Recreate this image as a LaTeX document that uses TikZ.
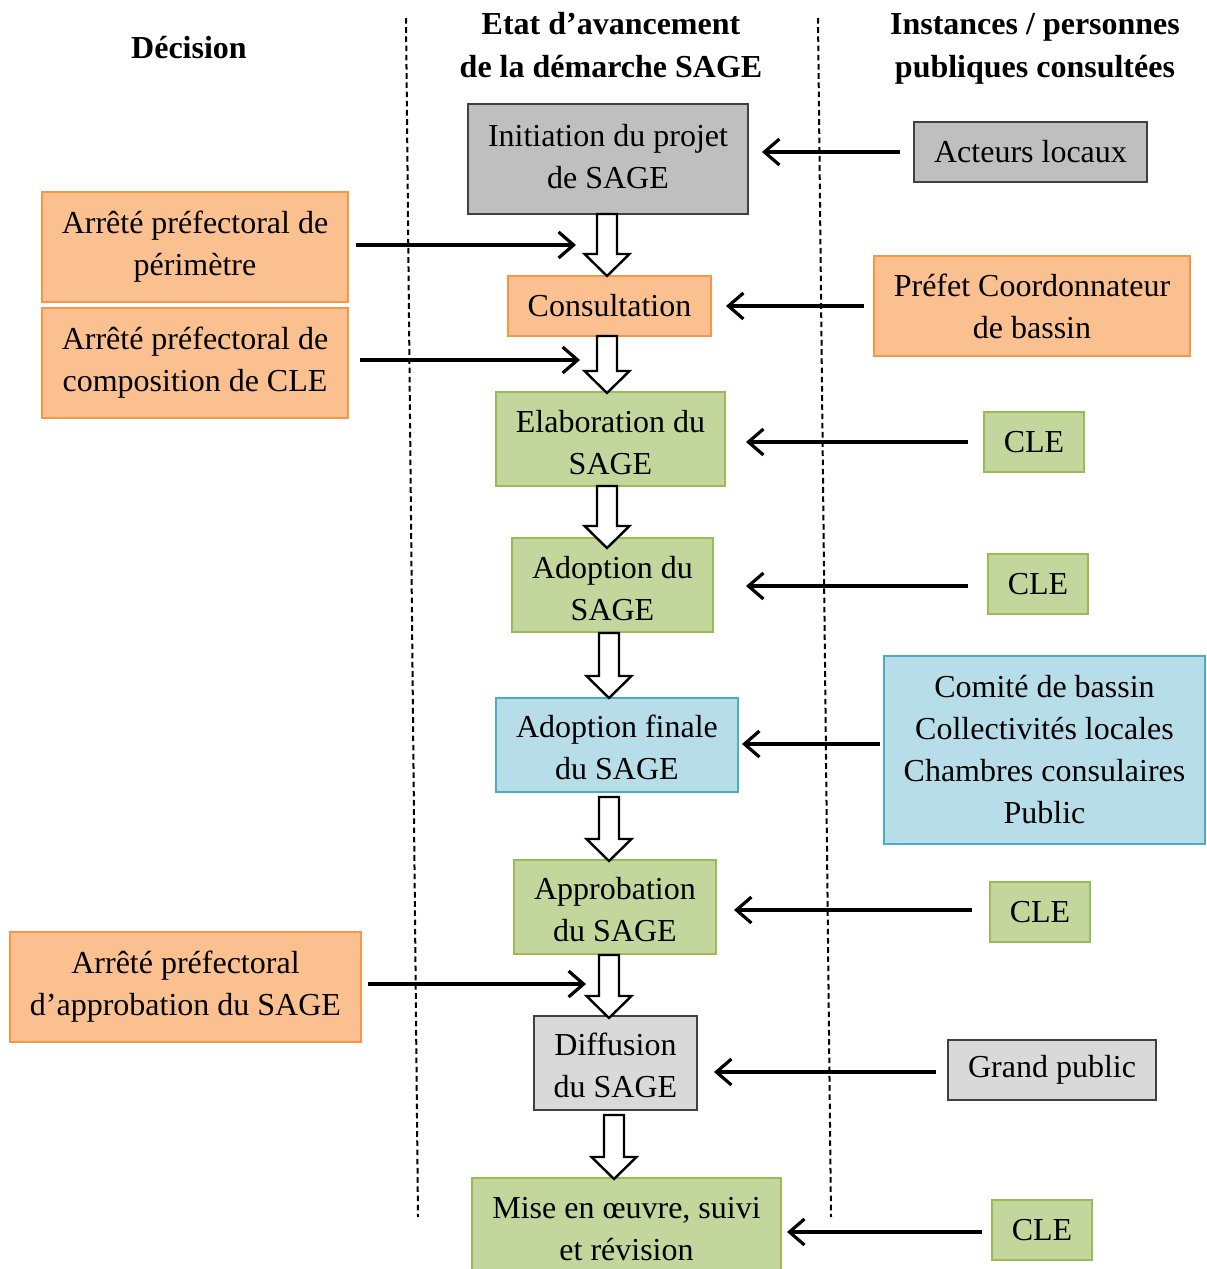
\documentclass[tikz,border=0pt]{standalone}
\usepackage{fontspec}
\setmainfont{Liberation Serif}
\usetikzlibrary{arrows.meta}
\definecolor{orfill}{HTML}{FAC090}
\definecolor{ordraw}{HTML}{F79646}
\definecolor{grfill}{HTML}{C3D69B}
\definecolor{grdraw}{HTML}{9BBB59}
\definecolor{blfill}{HTML}{B7DEE8}
\definecolor{bldraw}{HTML}{4BACC6}
\definecolor{gyfill}{HTML}{BFBFBF}
\definecolor{gydraw}{HTML}{404040}
\definecolor{lgfill}{HTML}{D9D9D9}
\tikzset{
  base/.style={inner sep=0pt, outer sep=0pt, align=center, font=\fontsize{16pt}{21pt}\selectfont},
  orangebox/.style={base, fill=orfill, draw=ordraw, line width=0.6pt},
  greenbox/.style={base, fill=grfill, draw=grdraw, line width=0.6pt},
  bluebox/.style={base, fill=blfill, draw=bldraw, line width=0.6pt},
  graybox/.style={base, fill=gyfill, draw=gydraw, line width=0.8pt},
  lgraybox/.style={base, fill=lgfill, draw=gydraw, line width=0.7pt},
  arr/.style={line width=1.6pt, -{Straight Barb[length=7.5pt,width=13pt]}},
  blk/.style={draw=black, fill=white, line width=1.2pt, line join=miter},
  sepline/.style={line width=1pt, dash pattern=on 2.8pt off 1.8pt},
  head/.style={inner sep=0pt, align=center, font=\bfseries\fontsize{16pt}{21.5pt}\selectfont}
}
\newcommand\mybox[7]{\node[#6, minimum width={(#4-#2)*0.5pt}, minimum height={(#5-#3)*0.5pt}] (#1) at ({(#2+#4)/2},{(#3+#5)/2}) {#7};}
\newcommand\blockarr[3]{\draw[blk] ({#1-10},#2) -- ({#1+10},#2) -- ({#1+10},{#3-22}) -- ({#1+22.5},{#3-22}) -- (#1,#3) -- ({#1-22.5},{#3-22}) -- ({#1-10},{#3-22}) -- cycle;}
\begin{document}
\begin{tikzpicture}[x=0.5pt,y=-0.5pt]
\clip (0,0) rectangle (1206,1269);
\fill[white] (0,0) rectangle (1206,1269);

% headings
\node[head] (hdec) at (189,48) {Décision};
\node[head] (hetat) at (611,45.5) {Etat d’avancement\\de la démarche SAGE};
\node[head] (hinst) at (1035,49) {Instances / personnes\\publiques consultées};

% separators
\draw[sepline] (406,18) -- (418,1217);
\draw[sepline] (818,18) -- (831,1217);

% boxes
\mybox{init}{468}{104}{748}{214}{graybox, text depth=3pt}{Initiation du projet\\de SAGE}
\mybox{acteurs}{914}{122}{1147}{182}{graybox}{Acteurs locaux}
\mybox{perim}{42}{192}{348}{302}{orangebox}{Arrêté préfectoral de\\périmètre}
\mybox{consult}{508}{276}{711}{336}{orangebox}{Consultation}
\mybox{prefet}{874}{256}{1190}{356}{orangebox}{Préfet Coordonnateur\\de bassin}
\mybox{compo}{42}{308}{348}{418}{orangebox}{Arrêté préfectoral de\\composition de CLE}
\mybox{elab}{496}{392}{725}{486}{greenbox}{\rule{0pt}{14.5pt}Elaboration du\\SAGE}
\mybox{cleA}{984}{412}{1084}{472}{greenbox}{CLE}
\mybox{adopt}{512}{538}{713}{632}{greenbox}{\rule{0pt}{14.5pt}Adoption du\\SAGE}
\mybox{cleB}{988}{554}{1088}{614}{greenbox}{CLE}
\mybox{finale}{496}{698}{738}{792}{bluebox}{\rule{0pt}{14pt}Adoption finale\\du SAGE}
\mybox{comite}{884}{656}{1205}{844}{bluebox}{Comité de bassin\\Collectivités locales\\Chambres consulaires\\Public}
\mybox{approb}{514}{860}{716}{954}{greenbox}{\rule{0pt}{14pt}Approbation\\du SAGE}
\mybox{cleC}{990}{882}{1090}{942}{greenbox}{CLE}
\mybox{arrapp}{10}{932}{361}{1042}{orangebox}{Arrêté préfectoral\\d’approbation du SAGE}
\mybox{diff}{534}{1016}{697}{1110}{lgraybox}{\rule{0pt}{14pt}Diffusion\\du SAGE}
\mybox{grand}{948}{1040}{1156}{1100}{lgraybox}{Grand public}
\mybox{mise}{472}{1178}{781}{1280}{greenbox}{Mise en œuvre, suivi\\et révision}
\mybox{cleD}{992}{1200}{1092}{1260}{greenbox}{CLE}

% block arrows between stages
\blockarr{607}{214}{276}
\blockarr{607}{336}{393}
\blockarr{607}{486}{548}
\blockarr{609}{633}{698}
\blockarr{609}{797}{861}
\blockarr{609}{955}{1018}
\blockarr{614}{1115}{1179}

% targets of decision arrows
\coordinate (t1) at (576,245);
\coordinate (t2) at (580,360);
\coordinate (t3) at (586,984);

% decision arrows
\draw[arr, shorten <=4pt] (perim.east |- t1) -- (t1);
\draw[arr, shorten <=6pt] (compo.east |- t2) -- (t2);
\draw[arr, shorten <=3.5pt] (arrapp.east |- t3) -- (t3);

% consultation arrows
\draw[arr, shorten <=7pt, shorten >=7pt] (acteurs.west) -- (acteurs.west -| init.east);
\draw[arr, shorten <=5pt, shorten >=7.5pt] (prefet.west) -- (prefet.west -| consult.east);
\draw[arr, shorten <=8pt, shorten >=10.5pt] (cleA.west) -- (cleA.west -| elab.east);
\draw[arr, shorten <=10pt, shorten >=16.5pt] ([yshift=-1pt]cleB.west) -- ([yshift=-1pt]cleB.west -| adopt.east);
\draw[arr, shorten <=2pt, shorten >=2pt] ([yshift=3pt]comite.west) -- ([yshift=3pt]comite.west -| finale.east);
\draw[arr, shorten <=9pt, shorten >=9pt] ([yshift=1pt]cleC.west) -- ([yshift=1pt]cleC.west -| approb.east);
\draw[arr, shorten <=6pt, shorten >=8.5pt] ([yshift=-1pt]grand.west) -- ([yshift=-1pt]grand.west -| diff.east);
\draw[arr, shorten <=5pt, shorten >=3pt] ([yshift=-1pt]cleD.west) -- ([yshift=-1pt]cleD.west -| mise.east);
\end{tikzpicture}
\end{document}
